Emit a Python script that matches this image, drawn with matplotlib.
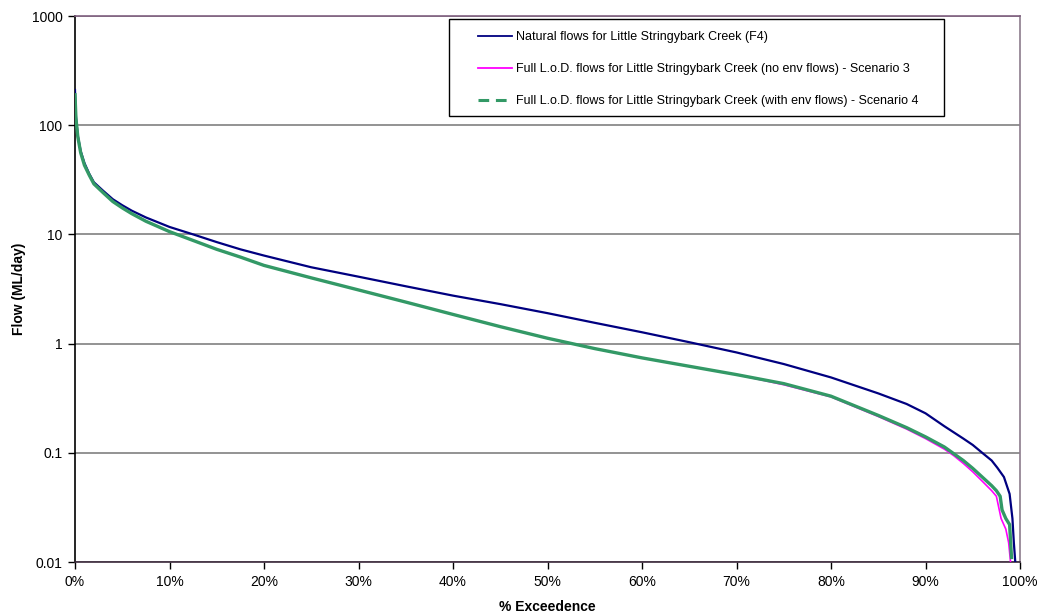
import matplotlib
matplotlib.use("Agg")
import matplotlib.pyplot as plt
from matplotlib.lines import Line2D
from matplotlib.patches import Rectangle
from matplotlib.ticker import FixedLocator, FuncFormatter

plt.rcParams['font.family'] = ['Liberation Sans', 'DejaVu Sans']

# flow duration curves: % of time exceeded vs flow (ML/day)
nat_exc = [0, 0.1, 0.3, 0.6, 1, 1.5, 2, 3, 4, 5, 6, 7.5, 10, 12.5, 15, 17.5,
           20, 25, 30, 35, 40, 45, 50, 55, 60, 65, 70, 75, 80, 85, 88, 90,
           92, 94, 95, 96, 97, 97.6, 98.3, 98.9, 99.2, 99.35, 99.5]
nat_flow = [210, 120, 80, 58, 45, 36, 30, 25, 21, 18.5, 16.5, 14.3, 11.7, 10,
            8.5, 7.3, 6.4, 5.0, 4.1, 3.35, 2.75, 2.3, 1.9, 1.55, 1.27, 1.03,
            0.83, 0.65, 0.49, 0.35, 0.28, 0.23, 0.175, 0.135, 0.118, 0.1,
            0.085, 0.073, 0.06, 0.042, 0.025, 0.015, 0.01]

sc3_exc = [0, 0.1, 0.3, 0.6, 1, 1.5, 2, 3, 4, 5, 6, 7.5, 10, 12.5, 15, 17.5,
           20, 25, 30, 35, 40, 45, 50, 55, 60, 65, 70, 75, 80, 85, 88, 90,
           92, 93, 94, 95, 96, 97, 97.5, 98, 98.5, 98.8, 99.0]
sc3_flow = [170, 115, 78, 56, 43, 35, 29, 24, 20, 17.5, 15.5, 13.2, 10.6, 8.8,
            7.3, 6.2, 5.2, 4.0, 3.1, 2.4, 1.85, 1.43, 1.12, 0.9, 0.74, 0.62,
            0.52, 0.42, 0.325, 0.215, 0.165, 0.135, 0.108, 0.094, 0.08,
            0.067, 0.055, 0.045, 0.04, 0.025, 0.02, 0.015, 0.01]

sc4_exc = [0, 0.1, 0.3, 0.6, 1, 1.5, 2, 3, 4, 5, 6, 7.5, 10, 12.5, 15, 17.5,
           20, 25, 30, 35, 40, 45, 50, 55, 60, 65, 70, 75, 80, 85, 88, 90,
           92, 93, 94, 95, 96, 97, 97.5, 97.9, 98.1, 98.5, 98.9, 99.1]
sc4_flow = [190, 115, 78, 56, 43, 35, 29, 24, 20, 17.5, 15.5, 13.2, 10.6, 8.8,
            7.3, 6.2, 5.2, 4.0, 3.1, 2.4, 1.85, 1.43, 1.12, 0.9, 0.74, 0.62,
            0.52, 0.43, 0.33, 0.22, 0.17, 0.14, 0.113, 0.098, 0.085, 0.072,
            0.06, 0.05, 0.045, 0.04, 0.03, 0.025, 0.022, 0.011]

labels = ['Natural flows for Little Stringybark Creek (F4)',
          'Full L.o.D. flows for Little Stringybark Creek (no env flows) - Scenario 3',
          'Full L.o.D. flows for Little Stringybark Creek (with env flows) - Scenario 4']
y_ticks = [0.01, 0.1, 1, 10, 100, 1000]
x_ticks = [0, 10, 20, 30, 40, 50, 60, 70, 80, 90, 100]

navy = '#000080'
pink = '#ff00ff'
green = '#339966'

fig = plt.figure(figsize=(10.4, 6.16), dpi=100)
ax = fig.add_axes([75 / 1040, 1 - 562 / 616, 945 / 1040, 546 / 616])

ax.plot(nat_exc, nat_flow, color=navy, lw=1.6, zorder=3)
ax.plot(sc3_exc, sc3_flow, color=pink, lw=1.2, zorder=4)
ax.plot(sc4_exc, sc4_flow, color=green, lw=2.4, zorder=5)

ax.set_yscale('log')
ax.set_ylim(0.01, 1000)
ax.set_xlim(0, 100)
ax.yaxis.set_major_locator(FixedLocator(y_ticks))
ax.yaxis.set_minor_locator(FixedLocator([]))
ax.yaxis.set_major_formatter(FuncFormatter(lambda v, p: f'{v:g}'))
ax.xaxis.set_major_locator(FixedLocator(x_ticks))
ax.xaxis.set_major_formatter(FuncFormatter(lambda v, p: f'{v:.0f}%'))

ax.grid(axis='y', color='#808080', lw=1.2)
ax.set_axisbelow(True)
ax.tick_params(direction='out', length=5, width=1, labelsize=10, pad=4,
               colors='black')

ax.spines['left'].set_color('black')
ax.spines['bottom'].set_color('#3c2a3c')
ax.spines['top'].set_color('#806080')
ax.spines['right'].set_color('#8c7c8c')
for s in ax.spines.values():
    s.set_linewidth(1.2)

ax.set_ylabel('Flow (ML/day)', fontsize=10, fontweight='bold', labelpad=4)
ax.set_xlabel('% Exceedence', fontsize=10, fontweight='bold', labelpad=8)

handles = [Line2D([], [], color=navy, lw=1.3),
           Line2D([], [], color=pink, lw=1.3),
           Line2D([], [], color=green, lw=2.2, dashes=(3.5, 2.2))]
leg = ax.legend(handles, labels, loc='upper left',
                bbox_to_anchor=(478 / 1040, 1 - 31 / 616),
                bbox_transform=fig.transFigure, frameon=False,
                fontsize=9, handlelength=2.75, handletextpad=0.25,
                labelspacing=1.6, borderpad=0, borderaxespad=0)
leg.set_zorder(10)

# legend frame, drawn under the legend entries
ax.add_patch(Rectangle((449 / 1040, 1 - 116 / 616), 495 / 1040, 97 / 616,
                       transform=fig.transFigure, facecolor='white',
                       edgecolor='black', lw=1.0, zorder=9, clip_on=False))

fig.savefig('out.png', dpi=100)
